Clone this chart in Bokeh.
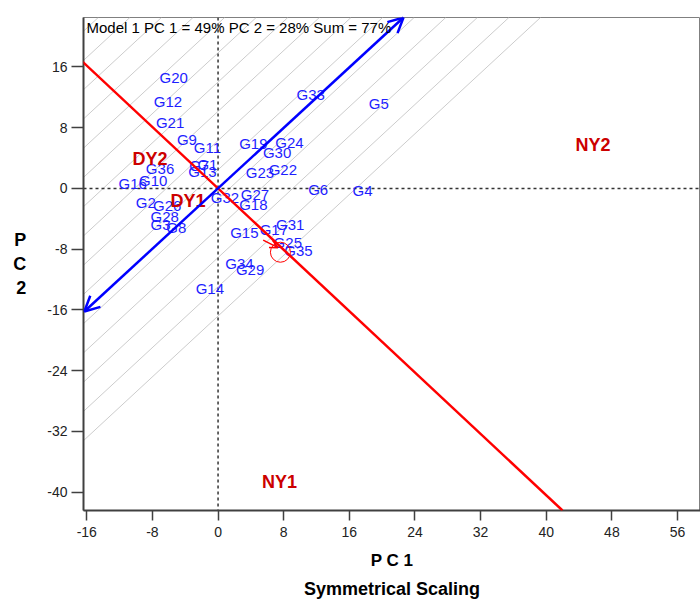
from bokeh.plotting import figure
from bokeh.models import (Range1d, FixedTicker, ColumnDataSource, Slope, Span, Arrow,
                          OpenHead, Label, Title)
from bokeh.core.properties import value
from bokeh.embed import file_html
from bokeh.resources import INLINE

# ---- data ----
geno_names = ["G20", "G12", "G21", "G9", "G11", "G19", "G24", "G30", "G33", "G5",
              "G23", "G22", "G6", "G4", "G36", "G7", "G1", "G13", "G16", "G10",
              "G2", "G26", "G28", "G3", "G8", "G32", "G27", "G18", "G15", "G17",
              "G31", "G25", "G35", "G34", "G29", "G14"]
geno_pc1 = [-5.4, -6.1, -5.85, -3.8, -1.3, 4.3, 8.7, 7.2, 11.3, 19.6,
            5.1, 7.9, 12.2, 17.6, -7.07, -2.3, -1.3, -1.9, -10.4, -7.9,
            -8.8, -6.2, -6.5, -7.0, -5.1, 0.85, 4.5, 4.3, 3.2, 6.8,
            8.8, 8.5, 9.8, 2.6, 3.9, -1.0]
geno_pc2 = [14.6, 11.5, 8.7, 6.4, 5.4, 5.9, 6.0, 4.7, 12.4, 11.2,
            2.1, 2.5, -0.1, -0.3, 2.57, 3.0, 3.1, 2.2, 0.66, 0.99,
            -1.8, -2.3, -3.7, -4.7, -5.2, -1.25, -0.8, -2.1, -5.8, -5.4,
            -4.7, -7.1, -8.2, -9.9, -10.7, -13.2]

env_names = ["NY2", "DY2", "DY1", "NY1"]
env_pc1 = [45.7, -8.3, -3.66, 7.5]
env_pc2 = [5.7, 3.9, -1.6, -38.6]

x_ticks = [-16, -8, 0, 8, 16, 24, 32, 40, 48, 56]
y_ticks = [16, 8, 0, -8, -16, -24, -32, -40]

# average-environment axis (blue, both ends arrowed) and its perpendicular (red)
aea_x = [-16.3, 22.6]
aea_y = [-16.2, 22.5]
perp_slope = -1.01
hatch_intercepts = [-16.8, -12.95, -9.1, -5.25, -1.4, 2.45, 6.3, 10.15, 14.0,
                    17.85, 21.7, 25.55, 29.4, 33.25, 37.1]
avg_env_x = [7.6]
avg_env_y = [-8.4]
small_arrow_x = [5.5, 7.3]
small_arrow_y = [-6.8, -7.8]

FONT = value("Liberation Sans")

p = figure(width=700, height=606, x_range=Range1d(-16.4, 58.8), y_range=Range1d(-42.4, 22.5),
           output_backend="svg", toolbar_location=None, title=None,
           min_border_left=83, min_border_right=0, min_border_top=17, min_border_bottom=96)
p.grid.visible = False
p.outline_line_color = "#808080"
p.outline_line_width = 1
p.background_fill_color = "white"
p.border_fill_color = "white"

for ax, ticks in ((p.xaxis, x_ticks), (p.yaxis, y_ticks)):
    ax.ticker = FixedTicker(ticks=ticks)
    ax.major_label_overrides = {t: str(t) for t in ticks}
    ax.major_label_text_font = "Liberation Sans"
    ax.major_label_text_font_size = "14px"
    ax.major_label_text_color = "#222222"
    ax.axis_line_color = "#404040"
    ax.axis_line_width = 2
    ax.major_tick_line_color = "#404040"
    ax.major_tick_line_width = 1.5
    ax.major_tick_in = 0
    ax.minor_tick_line_color = None
    ax.axis_label_text_font = "Liberation Sans"
    ax.axis_label_text_font_style = "bold"
    ax.axis_label_text_color = "#000000"
p.xaxis.major_tick_out = 10
p.xaxis.major_label_standoff = 6
p.yaxis.major_tick_out = 12
p.yaxis.major_label_standoff = 4

p.xaxis.axis_label = "P C 1"
p.xaxis.axis_label_text_font_size = "17px"
p.xaxis.axis_label_standoff = 11

p.yaxis.axis_label = "P\nC\n2"
p.yaxis.axis_label_text_font_size = "18px"
p.yaxis.axis_label_standoff = 18
try:
    p.yaxis.axis_label_orientation = "horizontal"
except Exception:
    pass

p.add_layout(Title(text="Symmetrical Scaling", align="center", text_font="Liberation Sans",
                   text_font_size="18px", text_font_style="bold", text_color="#000000",
                   standoff=8),
             "below")

# hatch lines
for c in hatch_intercepts:
    p.add_layout(Slope(gradient=1, y_intercept=c, line_color="#cccccc", line_width=1,
                       level="underlay"))

# dashed zero lines
p.add_layout(Span(location=0, dimension="height", line_color="#333333", line_width=1.5,
                  line_dash="3 3", level="underlay"))
p.add_layout(Span(location=0, dimension="width", line_color="#333333", line_width=1.5,
                  line_dash="3 3", level="underlay"))

# labels
gsrc = ColumnDataSource(dict(x=geno_pc1, y=geno_pc2, t=geno_names))
p.text(x="x", y="y", text="t", source=gsrc, text_color="#1e1eff", text_font=FONT,
       text_font_size="15px", text_align="center", text_baseline="middle")
esrc = ColumnDataSource(dict(x=env_pc1, y=env_pc2, t=env_names))
p.text(x="x", y="y", text="t", source=esrc, text_color="#cc0000", text_font=FONT,
       text_font_size="18px", text_font_style="bold", text_align="center",
       text_baseline="middle")

# red perpendicular line
p.add_layout(Slope(gradient=perp_slope, y_intercept=0, line_color="#ff0000", line_width=2.5))

# blue average environment axis
p.add_layout(Arrow(start=OpenHead(size=15, line_color="#0000ff", line_width=2.5),
                   end=OpenHead(size=15, line_color="#0000ff", line_width=2.5),
                   x_start=aea_x[0], y_start=aea_y[0], x_end=aea_x[1], y_end=aea_y[1],
                   line_color="#0000ff", line_width=2.5))

# small red arrow and circle (average environment)
p.add_layout(Arrow(end=OpenHead(size=8, line_color="#ff0000", line_width=1.5),
                   x_start=small_arrow_x[0], y_start=small_arrow_y[0],
                   x_end=small_arrow_x[1], y_end=small_arrow_y[1],
                   line_color="#ff0000", line_width=1.5))
p.scatter(x=avg_env_x, y=avg_env_y, marker="circle", size=20, fill_color=None,
          line_color="#ff0000", line_width=1)

# in-plot title
p.add_layout(Label(x=3, y=483.5, x_units="screen", y_units="screen",
                   text="Model 1 PC 1 = 49% PC 2 = 28% Sum = 77%",
                   text_font="Liberation Sans", text_font_size="15px", text_color="#000000",
                   text_align="left", text_baseline="middle"))

open("out.html", "w").write(file_html(p, INLINE))
